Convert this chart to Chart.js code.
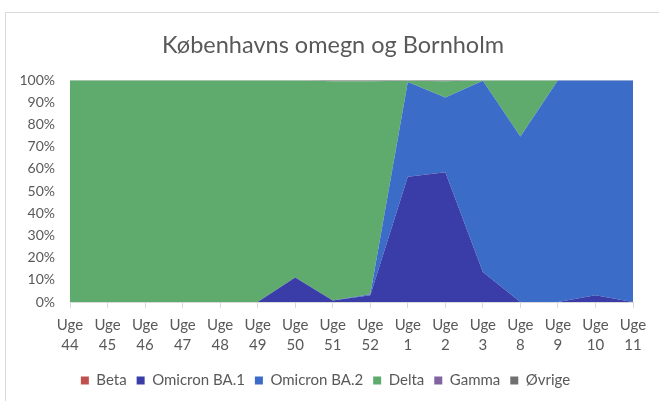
<!DOCTYPE html>
<html>
<head>
<meta charset="utf-8">
<script src="https://cdn.jsdelivr.net/npm/chart.js@4"></script>
<style>
  html, body { margin: 0; padding: 0; background: #fff; }
  #wrap { position: relative; width: 659px; height: 401px; overflow: hidden; }
  #frame { position: absolute; left: 5px; top: 12px; width: 700px; height: 500px; border: 1px solid #D9D9D9; box-sizing: border-box; }
  canvas { position: absolute; left: 0; top: 0; }
</style>
</head>
<body>
<div id="wrap">
  <div id="frame"></div>
  <canvas id="c" width="659" height="401"></canvas>
</div>
<script>
const weeks = ["44","45","46","47","48","49","50","51","52","1","2","3","8","9","10","11"];
const beta     = [0,0,0,0,0,0,0,0,0,0,0,0,0,0,0,0];
const ba1      = [0,0,0,0,0,0,11,0.7,3,56.5,58.5,13.5,0,0,3,0];
const ba2      = [0,0,0,0,0,0,0,0,0.5,42.7,33.7,86.2,74.6,100,97,100];
const delta    = [100,100,100,100,100,100,89,98.8,96,0.5,7.3,0.3,25.4,0,0,0];
const gamma    = [0,0,0,0,0,0,0,0,0,0,0,0,0,0,0,0];
const ovrige   = [0,0,0,0,0,0,0,0.5,0.5,0.3,0.5,0,0,0,0,0];
const yTicks = [0,10,20,30,40,50,60,70,80,90,100];

const FONT = "Lato, 'Open Sans', sans-serif";
const TXT = "#595959";

function ds(label, data, color, fill) {
  return { label, data, backgroundColor: color, borderColor: color, borderWidth: 0,
           pointRadius: 0, pointHoverRadius: 0, fill, tension: 0 };
}

const shiftBlocks = {
  id: "shiftBlocks",
  afterLayout(chart) {
    if (chart.titleBlock) chart.titleBlock.left = 33;
    if (chart.legend) chart.legend.left = 18;
  }
};

new Chart(document.getElementById("c"), {
  type: "line",
  plugins: [shiftBlocks],
  data: {
    labels: weeks.map(w => ["Uge", w]),
    datasets: [
      ds("Beta", beta, "#C0504D", "origin"),
      ds("Omicron BA.1", ba1, "#3A3DA8", "-1"),
      ds("Omicron BA.2", ba2, "#3A6CC8", "-1"),
      ds("Delta", delta, "#5FAB6E", "-1"),
      ds("Gamma", gamma, "#8064A2", "-1"),
      ds("Øvrige", ovrige, "#707070", "-1")
    ]
  },
  options: {
    responsive: false,
    animation: false,
    events: [],
    layout: { padding: { left: 0, right: 26, top: 12, bottom: 3 } },
    plugins: {
      title: {
        display: true,
        text: "Københavns omegn og Bornholm",
        color: TXT,
        font: { family: FONT, size: 23.5, weight: "normal" },
        padding: { top: 19, bottom: 21 }
      },
      legend: {
        position: "bottom",
        labels: {
          color: TXT,
          font: { family: FONT, size: 15 },
          boxWidth: 8, boxHeight: 8,
          padding: 10
        }
      },
      tooltip: { enabled: false }
    },
    scales: {
      x: {
        offset: false,
        grid: { display: true, drawOnChartArea: false, drawTicks: true, tickLength: 6, color: "#D9D9D9" },
        border: { display: true, color: "#D9D9D9" },
        ticks: { color: TXT, font: { family: FONT, size: 15, lineHeight: 1.33 }, maxRotation: 0, autoSkip: false, padding: 7 },
        afterFit: s => { s.height = 61; }
      },
      y: {
        stacked: true,
        min: 0, max: 100,
        afterBuildTicks: s => { s.ticks = yTicks.map(v => ({ value: v })); },
        grid: { display: true, color: "#D9D9D9", drawTicks: false },
        border: { display: false },
        ticks: { color: TXT, font: { family: FONT, size: 14 }, padding: 15, callback: v => v + "%" },
        afterFit: s => { s.width = 70; }
      }
    }
  }
});
</script>
</body>
</html>
